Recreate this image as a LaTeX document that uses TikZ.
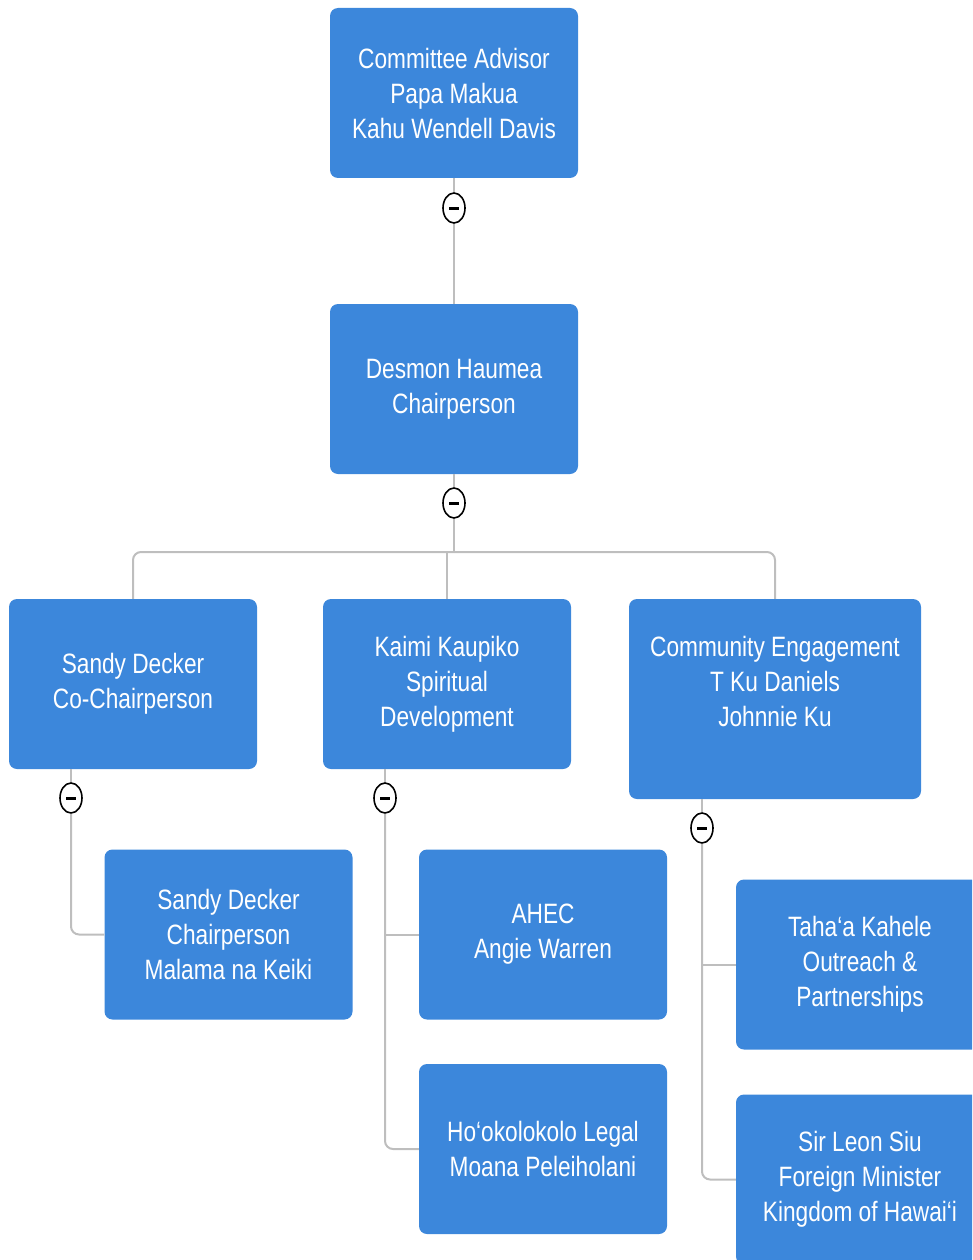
\documentclass[tikz,border=0pt]{standalone}
\usepackage{fontspec}
\setmainfont{Liberation Sans}[FakeStretch=0.81]
\usepackage{xcolor}
\usepackage{tikz}
\usetikzlibrary{shapes,positioning}
\usetikzlibrary{calc}
\definecolor{boxblue}{RGB}{60,135,219}
\definecolor{linkgray}{RGB}{190,190,190}
\tikzset{
	box/.style={draw=none,fill=boxblue,text=white,rounded corners=8pt,
		minimum width=248pt,minimum height=170pt,inner sep=0pt,align=center,
		font=\fontsize{28}{35}\selectfont},
	link/.style={draw=linkgray,line width=2pt},
	toggle/.style={ellipse,draw=black,fill=white,line width=1.6pt,
		minimum width=22pt,minimum height=30pt,inner sep=0pt}
}
\newcommand{\moins}{\rule{10pt}{3pt}}
\begin{document}
\begin{tikzpicture}[x=1pt,y=-1pt]
\useasboundingbox (0,0) rectangle (972,1260);
\clip (0,0) rectangle (972,1260); % the two right boxes run off the page

%Boites
\node[box] (advisor) at (454,93) {Committee Advisor\\Papa Makua\\Kahu Wendell Davis};
\node[box] (chair) at (454,389) {Desmon Haumea\\Chairperson};
\node[box] (sandy) at (133,684) {Sandy Decker\\Co-Chairperson};
\node[box] (kaimi) at (447,684) {Kaimi Kaupiko\\Spiritual\\Development};
\node[box,minimum width=292pt,minimum height=200pt] (comm) at (775,699) {Community Engagement\\T Ku Daniels\\Johnnie Ku\\\mbox{}};
\node[box] (sandyb) at (228.5,934.5) {Sandy Decker\\Chairperson\\Malama na Keiki};
\node[box] (ahec) at (543,934.5) {AHEC\\Angie Warren};
\node[box] (legal) at (543,1149) {Ho‘okolokolo Legal\\Moana Peleiholani};
\node[box] (tahaa) at (860,964.5) {Taha‘a Kahele\\Outreach \&\\Partnerships};
\node[box] (leon) at (860,1179.5) {Sir Leon Siu\\Foreign Minister\\Kingdom of Hawai‘i};

%Boutons
\node[toggle] (t1) at (454,208) {\moins};
\node[toggle] (t2) at (454,503) {\moins};
\node[toggle] (ta) at (71,798) {\moins};
\node[toggle] (tb) at (385,798) {\moins};
\node[toggle] (tc) at (702,828) {\moins};

\coordinate (bus) at (454,552);

%Liens
\draw[link] (advisor.south) -- (t1.north);
\draw[link] (t1.south) -- (chair.north);
\draw[link] (chair.south) -- (t2.north);
\draw[link] (t2.south) -- (bus);
\draw[link,rounded corners=8pt] (bus) -| (sandy.north);
\draw[link,rounded corners=8pt] (bus) -| (comm.north);
\draw[link] (kaimi.north |- bus) -- (kaimi.north);

\draw[link] (sandy.south -| ta) -- (ta.north);
\draw[link,rounded corners=8pt] (ta.south) |- (sandyb.west);

\draw[link] (kaimi.south -| tb) -- (tb.north);
\draw[link] (tb.south) |- (ahec.west);
\draw[link,rounded corners=8pt] (tb.south) |- (legal.west);

\draw[link] (comm.south -| tc) -- (tc.north);
\draw[link] (tc.south) |- (tahaa.west);
\draw[link,rounded corners=8pt] (tc.south) |- (leon.west);

\end{tikzpicture}
\end{document}
